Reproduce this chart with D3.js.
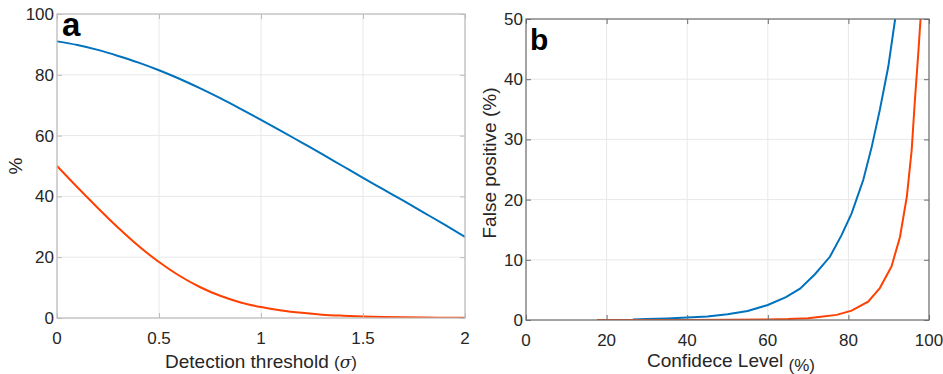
<!DOCTYPE html>
<html><head><meta charset="utf-8">
<script src="https://cdn.jsdelivr.net/npm/d3@7/dist/d3.min.js"></script>
<style>body{margin:0;background:#fff}svg{display:block;font-family:"Liberation Sans",Arial,sans-serif}</style>
</head><body><svg id="c" width="943" height="374"></svg>
<script>
// Panel a: detection threshold (sigma) vs %
const thrA = [0,0.1,0.2,0.3,0.4,0.5,0.6,0.7,0.8,0.9,1.0,1.1,1.2,1.3,1.4,1.5,1.6,1.7,1.8,1.9,2.0];
const blueA = [91,89.8,88.2,86.2,84,81.5,78.7,75.6,72.3,68.8,65.2,61.5,57.7,53.9,50.0,46.1,42.3,38.5,34.6,30.7,26.7];
const orangeA = [50,43,36.2,29.7,23.7,18.4,13.9,10.2,7.3,5.1,3.6,2.5,1.7,1.1,0.75,0.5,0.33,0.22,0.14,0.09,0.05];
const xTicksA = [0,0.5,1,1.5,2];
const yTicksA = [0,20,40,60,80,100];
// Panel b: confidence level vs false positive
const blueBx = [26.5,30,35,40,45,50,55,60,64.5,68,71.7,75.4,78.3,80.8,83.7,85.8,87.8,89.9,91.6,92.5];
const blueBy = [0.1,0.15,0.25,0.4,0.6,0.95,1.5,2.5,3.8,5.2,7.6,10.5,14.1,17.7,23.3,28.8,34.9,42.1,50,54];
const orangeBx = [17.6,30,40,50,60,65,70,72.1,77.1,80.8,84.9,87.8,90.7,92.8,94.5,95.7,96.5,97.4,97.9,98.2];
const orangeBy = [0,0.01,0.02,0.04,0.1,0.15,0.3,0.45,0.85,1.55,3.05,5.3,8.9,13.8,20.5,28.2,36.5,44.9,50,54];
const xTicksB = [0,20,40,60,80,100];
const yTicksB = [0,10,20,30,40,50];

const svg = d3.select("#c");
const BLUE = "#0072bd", ORANGE = "#ff4000";

function panel(o) {
  const g = svg.append("g");
  const x = d3.scaleLinear().domain(o.xd).range([o.l, o.r]);
  const y = d3.scaleLinear().domain(o.yd).range([o.b, o.t]);
  g.selectAll(".gx").data(o.xt).join("line").attr("x1", d => x(d)).attr("x2", d => x(d))
    .attr("y1", o.t).attr("y2", o.b).attr("stroke", "#e8e8e8").attr("stroke-width", 1);
  g.selectAll(".gy").data(o.yt).join("line").attr("y1", d => y(d)).attr("y2", d => y(d))
    .attr("x1", o.l).attr("x2", o.r).attr("stroke", "#e8e8e8").attr("stroke-width", 1);
  const id = "clip" + o.name;
  svg.append("clipPath").attr("id", id).append("rect")
    .attr("x", o.l).attr("y", o.t).attr("width", o.r - o.l).attr("height", o.b - o.t);
  const line = d3.line().curve(o.curve).x(d => x(d[0])).y(d => y(d[1]));
  o.series.forEach(s => {
    g.append("path").attr("d", line(s.pts)).attr("fill", "none").attr("stroke", s.c)
      .attr("stroke-width", 2).attr("clip-path", `url(#${id})`);
  });
  const bx = d3.axisBottom(x).tickValues(o.xt).tickSize(-5).tickFormat("");
  const by = d3.axisLeft(y).tickValues(o.yt).tickSize(-5).tickFormat("");
  const tx = d3.axisTop(x).tickValues(o.xt).tickSize(-5).tickFormat("");
  const ry = d3.axisRight(y).tickValues(o.yt).tickSize(-5).tickFormat("");
  [[bx, `translate(0,${o.b})`], [tx, `translate(0,${o.t})`], [by, `translate(${o.l},0)`], [ry, `translate(${o.r},0)`]]
    .forEach(([ax, tr]) => {
      const a = g.append("g").attr("transform", tr).call(ax);
      a.selectAll("path,line").attr("stroke", o.axc).attr("stroke-width", 1);
      a.select(".domain").attr("d", null);
    });
  g.append("rect").attr("x", o.l).attr("y", o.t).attr("width", o.r - o.l).attr("height", o.b - o.t)
    .attr("fill", "none").attr("stroke", o.axc).attr("stroke-width", 1.2);
  g.selectAll(".xl").data(o.xt).join("text").attr("x", d => x(d)).attr("y", o.xlab)
    .attr("text-anchor", "middle").attr("font-size", 17).attr("fill", "#262626").text(d => d);
  g.selectAll(".yl").data(o.yt).join("text").attr("x", o.l - 3).attr("y", d => y(d) + 6)
    .attr("text-anchor", "end").attr("font-size", 17).attr("fill", "#262626").text(d => d);
  return {g, x, y};
}

panel({name: "a", l: 57, r: 465, t: 14, b: 318, xd: [0, 2], yd: [0, 100], xt: xTicksA, yt: yTicksA,
  axc: "#bdbdbd", curve: d3.curveMonotoneX, xlab: 344,
  series: [{c: BLUE, pts: thrA.map((t, i) => [t, blueA[i]])}, {c: ORANGE, pts: thrA.map((t, i) => [t, orangeA[i]])}]});
panel({name: "b", l: 526, r: 929, t: 19, b: 320, xd: [0, 100], yd: [0, 50], xt: xTicksB, yt: yTicksB,
  axc: "#6e6e6e", curve: d3.curveLinear, xlab: 346,
  series: [{c: BLUE, pts: blueBx.map((t, i) => [t, blueBy[i]])}, {c: ORANGE, pts: orangeBx.map((t, i) => [t, orangeBy[i]])}]});

svg.append("text").attr("x", 62).attr("y", 36).attr("font-size", 33).attr("font-weight", "bold").attr("fill", "#000").text("a");
svg.append("text").attr("x", 530).attr("y", 50).attr("font-size", 30).attr("font-weight", "bold").attr("fill", "#000").text("b");

svg.append("text").attr("transform", "translate(22,166) rotate(-90)").attr("text-anchor", "middle")
  .attr("font-size", 19).attr("fill", "#262626").text("%");
const xa = svg.append("text").attr("x", 261).attr("y", 368).attr("text-anchor", "middle").attr("font-size", 19).attr("fill", "#262626");
xa.append("tspan").text("Detection threshold ");
xa.append("tspan").attr("font-size", 17).text("(");
xa.append("tspan").attr("font-style", "italic").attr("font-family", "DejaVu Serif").attr("font-size", 17).text("σ");
xa.append("tspan").attr("font-size", 17).text(")");
const xb = svg.append("text").attr("x", 731).attr("y", 367).attr("text-anchor", "middle").attr("font-size", 19).attr("fill", "#262626");
xb.append("tspan").text("Confidece Level ");
xb.append("tspan").attr("font-size", 17).attr("dy", 4).text("(%)");
svg.append("text").attr("transform", "translate(496,163) rotate(-90)").attr("text-anchor", "middle")
  .attr("font-size", 19).attr("fill", "#262626").text("False positive  (%)");
</script></body></html>
